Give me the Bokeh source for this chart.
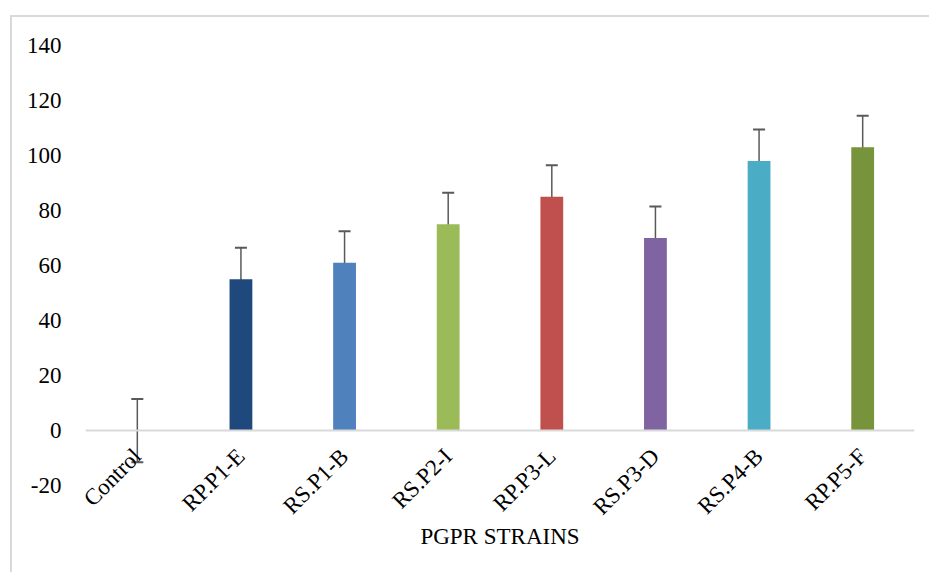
import math
from bokeh.plotting import figure
from bokeh.layouts import column
from bokeh.models import ColumnDataSource, Whisker, TeeHead, FixedTicker, Span
from bokeh.embed import file_html
from bokeh.resources import INLINE

strains = ["Control", "RP.P1-E", "RS.P1-B", "RS.P2-I", "RP.P3-L", "RS.P3-D", "RS.P4-B", "RP.P5-F"]
values = [0, 55, 61, 75, 85, 70, 98, 103]
errors = [11.5, 11.5, 11.5, 11.5, 11.5, 11.5, 11.5, 11.5]
colors = ["#ffffff", "#1F497D", "#4F81BD", "#9BBB59", "#C0504D", "#8064A2", "#4BACC6", "#77933C"]
y_ticks = [-20, 0, 20, 40, 60, 80, 100, 120, 140]
y_tick_labels = ["-20", "0", "20", "40", "60", "80", "100", "120", "140"]

src = ColumnDataSource(dict(
    x=strains, top=values, color=colors,
    upper=[v + e for v, e in zip(values, errors)],
    lower=[v - e for v, e in zip(values, errors)],
))

FONT = "Liberation Serif"
FS = "23px"

p = figure(x_range=strains, y_range=(-20, 140),
           frame_width=829, frame_height=440,
           min_border_left=73, min_border_top=28, min_border_right=15,
           min_border_bottom=87,
           output_backend="svg", toolbar_location=None,
           background_fill_color="white", border_fill_color="white")
p.outline_line_color = None
p.grid.grid_line_color = None

zero = Span(location=0, dimension="width", line_color="#d9d9d9", line_width=2)
p.add_layout(zero)

p.vbar(x="x", top="top", bottom=0, width=0.22, color="color", line_color=None,
       source=src)

w = Whisker(source=src, base="x", upper="upper", lower="lower",
            line_color="#595959", line_width=1.5,
            upper_head=TeeHead(size=12, line_color="#595959", line_width=2),
            lower_head=TeeHead(size=12, line_color="#595959", line_width=2))
p.add_layout(w)

p.yaxis.ticker = FixedTicker(ticks=y_ticks)
p.yaxis.major_label_overrides = {t: s for t, s in zip(y_ticks, y_tick_labels)}
p.yaxis.axis_line_color = None
p.yaxis.major_tick_line_color = None
p.yaxis.minor_tick_line_color = None
p.yaxis.major_label_standoff = 18
p.yaxis.major_label_text_font = FONT
p.yaxis.major_label_text_font_size = FS
p.yaxis.major_label_text_color = "#000000"

p.xaxis.axis_line_color = None
p.xaxis.major_tick_line_color = None
p.xaxis.minor_tick_line_color = None
p.xaxis.major_label_orientation = math.pi / 4
p.xaxis.major_label_standoff = -39
p.xaxis.major_label_text_font = FONT
p.xaxis.major_label_text_font_size = FS
p.xaxis.major_label_text_color = "#000000"
p.xaxis.axis_label = "PGPR STRAINS"
p.xaxis.axis_label_text_font = FONT
p.xaxis.axis_label_text_font_size = FS
p.xaxis.axis_label_text_font_style = "normal"
p.xaxis.axis_label_text_color = "#000000"
p.xaxis.axis_label_standoff = -7

layout = column(p, styles={"margin-left": "10px", "margin-top": "15px",
                           "border-left": "2px solid #d9d9d9",
                           "border-top": "2px solid #d9d9d9",
                           "background-color": "white"})

open("out.html", "w").write(file_html(layout, INLINE))
